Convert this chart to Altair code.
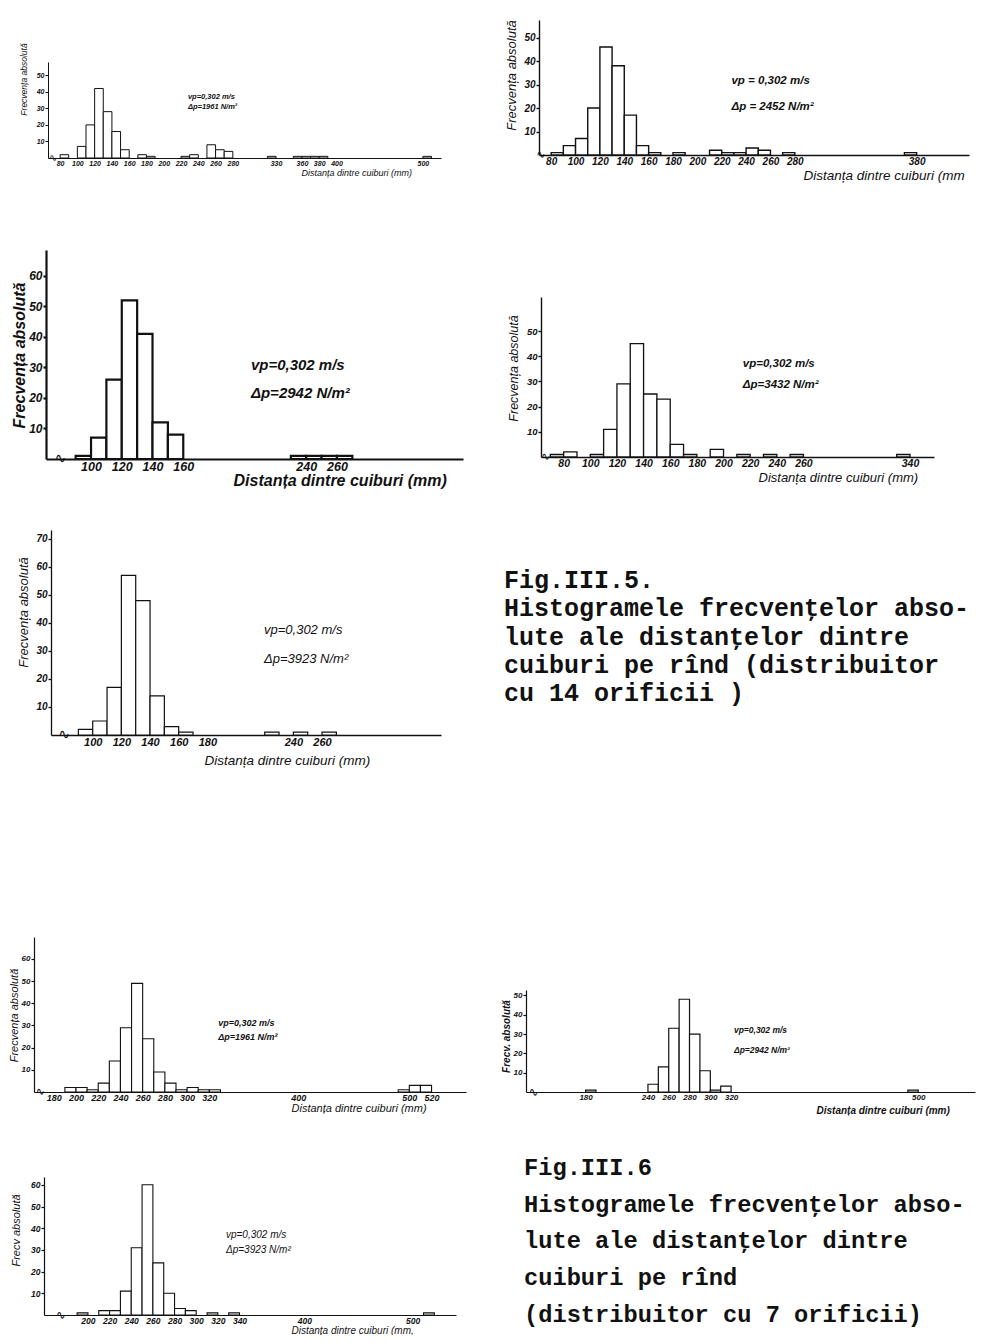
import altair as alt
import pandas as pd

# ------------------------------------------------------------------ data
# Fig. III.5 (distributor with 14 orifices) -- bins of 10 mm: left edge, count
p1_start = [80, 100, 110, 120, 130, 140, 150, 170, 180, 220, 230, 250, 260, 270, 320, 350, 360, 370, 380, 500]
p1_count = [2, 7, 20, 42, 28, 16, 5, 2, 1, 1, 2, 8, 5, 4, 1, 1, 1, 1, 1, 1]
p1_xticks = [80, 100, 120, 140, 160, 180, 200, 220, 240, 260, 280, 330, 360, 380, 400, 500]
p1_yticks = [10, 20, 30, 40, 50]
p1_note = ["vp=0,302 m/s", "Δp=1961 N/m²"]

p2_start = [80, 90, 100, 110, 120, 130, 140, 150, 160, 180, 210, 220, 230, 240, 250, 270, 370]
p2_count = [1, 4, 7, 20, 46, 38, 17, 4, 1, 1, 2, 1, 1, 3, 2, 1, 1]
p2_xticks = [80, 100, 120, 140, 160, 180, 200, 220, 240, 260, 280, 380]
p2_yticks = [10, 20, 30, 40, 50]
p2_note = ["vp = 0,302 m/s", "Δp = 2452 N/m²"]

p3_start = [90, 100, 110, 120, 130, 140, 150, 230, 240, 250, 260]
p3_count = [1, 7, 26, 52, 41, 12, 8, 1, 1, 1, 1]
p3_xticks = [100, 120, 140, 160, 240, 260]
p3_yticks = [10, 20, 30, 40, 50, 60]
p3_note = ["vp=0,302 m/s", "Δp=2942 N/m²"]

p4_start = [70, 80, 100, 110, 120, 130, 140, 150, 160, 170, 190, 210, 230, 250, 330]
p4_count = [1, 2, 1, 11, 29, 45, 25, 23, 5, 1, 3, 1, 1, 1, 1]
p4_xticks = [80, 100, 120, 140, 160, 180, 200, 220, 240, 260, 340]
p4_yticks = [10, 20, 30, 40, 50]
p4_note = ["vp=0,302 m/s", "Δp=3432 N/m²"]

p5_start = [90, 100, 110, 120, 130, 140, 150, 160, 220, 240, 260]
p5_count = [2, 5, 17, 57, 48, 14, 3, 1, 1, 1, 1]
p5_xticks = [100, 120, 140, 160, 180, 240, 260]
p5_yticks = [10, 20, 30, 40, 50, 60, 70]
p5_note = ["vp=0,302  m/s", "Δp=3923  N/m²"]

# Fig. III.6 (distributor with 7 orifices)
p6_start = [190, 200, 210, 220, 230, 240, 250, 260, 270, 280, 290, 300, 310, 320, 490, 500, 510]
p6_count = [2, 2, 1, 4, 14, 29, 49, 24, 9, 4, 1, 2, 1, 1, 1, 3, 3]
p6_xticks = [180, 200, 220, 240, 260, 280, 300, 320, 400, 500, 520]
p6_yticks = [10, 20, 30, 40, 50, 60]
p6_note = ["vp=0,302 m/s", "Δp=1961 N/m²"]

p7_start = [180, 240, 250, 260, 270, 280, 290, 300, 310, 490]
p7_count = [1, 4, 13, 33, 48, 30, 11, 1, 3, 1]
p7_xticks = [180, 240, 260, 280, 300, 320, 500]
p7_yticks = [10, 20, 30, 40, 50]
p7_note = ["vp=0,302 m/s", "Δp=2942 N/m²"]

p8_start = [190, 210, 220, 230, 240, 250, 260, 270, 280, 290, 310, 330, 510]
p8_count = [1, 2, 2, 11, 31, 60, 24, 10, 3, 2, 1, 1, 1]
p8_xticks = [200, 220, 240, 260, 280, 300, 320, 340, 400, 500]
p8_yticks = [10, 20, 30, 40, 50, 60]
p8_note = ["vp=0,302 m/s", "Δp=3923 N/m²"]

cap1_lines = ["Fig.III.5.",
              "Histogramele frecvenţelor abso-",
              "lute ale distanţelor dintre",
              "cuiburi pe rînd (distribuitor",
              "cu 14 orificii )"]
cap2_lines = ["Fig.III.6",
              "Histogramele frecvenţelor abso-",
              "lute ale distanţelor dintre",
              "cuiburi pe rînd",
              "(distribuitor cu 7 orificii)"]

BIN = 10
HAND = "Liberation Sans"
TYPE = "Liberation Mono"
INK = "#111111"
W1, W2 = 415, 434


def panel(starts, counts, xticks, yticks, note, L):
    df = pd.DataFrame({"start": starts,
                       "end": [s + BIN for s in starts],
                       "count": counts})
    xs = alt.Scale(domain=L["xdom"], range=L["xrange"], nice=False, zero=False)
    ys = alt.Scale(domain=[0, L["ymax"]], range=[L["base"], L["top"]], nice=False)
    xaxis = alt.Axis(values=xticks, ticks=False, labelPadding=1, labelOverlap=False,
                     labelFlush=False, labelAngle=0, labelFont=HAND,
                     labelFontSize=L["lfs"], labelFontStyle="italic", labelFontWeight="bold",
                     labelColor=INK, domainColor=INK, domainWidth=L["dw"],
                     offset=L["base"] - L["H"], grid=False,
                     title=L["xtitle"], titleX=L["xtx"], titleY=L["xty"],
                     titleAlign="left", titleBaseline="middle", titleFont=HAND,
                     titleFontSize=L["xtfs"], titleFontStyle="italic",
                     titleFontWeight=L["tw"], titleColor=INK)
    yaxis = alt.Axis(values=yticks, tickSize=3, tickColor=INK, tickWidth=L["dw"],
                     labelPadding=1, labelOverlap=False, labelFlush=False,
                     labelFont=HAND, labelFontSize=L["ylfs"], labelFontStyle="italic",
                     labelFontWeight="bold", labelColor=INK, domainColor=INK,
                     domainWidth=L["dw"], offset=L["yoff"], grid=False,
                     title=L["ytitle"], titleX=L["ytx"], titleY=L["yty"],
                     titleAlign="center", titleBaseline="middle", titleFont=HAND,
                     titleFontSize=L["ytfs"], titleFontStyle="italic",
                     titleFontWeight=L["tw"], titleColor=INK)
    bars = alt.Chart(df).mark_rect(fill="white", stroke=INK, strokeWidth=L["sw"]).encode(
        x=alt.X("start:Q", scale=xs, axis=xaxis),
        x2="end:Q",
        y=alt.Y("count:Q", scale=ys, axis=yaxis),
        y2=alt.datum(0),
    )
    ndf = pd.DataFrame({"start": [L["ax"]] * len(note), "count": L["ay"], "t": note})
    ann = alt.Chart(ndf).mark_text(align="left", baseline="middle", font=HAND,
                                   fontSize=L["afs"], fontStyle="italic",
                                   fontWeight=L["aw"], color=INK).encode(
        x=alt.X("start:Q", scale=xs, axis=xaxis),
        y=alt.Y("count:Q", scale=ys, axis=yaxis),
        text="t:N",
    )
    # axis-break wiggle drawn at the start of the distance axis
    bdf = pd.DataFrame({"start": [L["brk"]], "count": [0], "t": ["∿"]})
    brk = alt.Chart(bdf).mark_text(align="center", baseline="middle", font="DejaVu Sans",
                                   fontSize=L["bfs"], color=INK).encode(
        x=alt.X("start:Q", scale=xs, axis=xaxis),
        y=alt.Y("count:Q", scale=ys, axis=yaxis),
        text="t:N",
    )
    return alt.layer(bars, ann, brk).properties(width=L["W"], height=L["H"])


def caption(lines, L):
    df = pd.DataFrame({"i": list(range(len(lines))), "t": lines})
    return alt.Chart(df).mark_text(align="left", baseline="middle", font=TYPE,
                                   fontSize=L["fs"], fontWeight="bold", color=INK).encode(
        x=alt.value(L["x"]),
        y=alt.Y("i:Q", scale=alt.Scale(domain=[0, len(lines) - 1],
                                       range=[L["y0"], L["y0"] + (len(lines) - 1) * L["lh"]]),
                axis=None),
        text="t:N",
    ).properties(width=W2, height=L["H"])


DIST = "Distanța dintre cuiburi (mm)"
FA = "Frecvența absolută"

L1 = dict(H=242, W=W1, xdom=[66, 521], xrange=[-3, 390], yoff=3, ymax=58, base=150, top=54,
          lfs=7, ylfs=7, dw=1.0, sw=1.0, tw="normal", xtitle=DIST, xtx=250, xty=14, xtfs=9,
          ytitle=FA, ytx=-25, yty=71, ytfs=8.5, ax=228, ay=[36.9, 30.8], afs=7.5, aw="bold",
          brk=72, bfs=10)
L2 = dict(H=242, W=W2, xdom=[70, 423], xrange=[-2, 428], yoff=2, ymax=57.5, base=147, top=12,
          lfs=10, ylfs=10, dw=1.4, sw=1.4, tw="normal", xtitle="Distanța  dintre cuiburi (mm",
          xtx=262, xty=20, xtfs=13.5, ytitle=FA, ytx=-28, yty=67, ytfs=13, ax=228,
          ay=[31.5, 20.4], afs=11.5, aw="bold", brk=71.5, bfs=11)
L3 = dict(H=280, W=W1, xdom=[70.7, 342], xrange=[-5, 412], yoff=5, ymax=68.5, base=209, top=0,
          lfs=12.5, ylfs=12, dw=2.2, sw=2.2, tw="bold", xtitle=DIST, xtx=182, xty=21,
          xtfs=16, ytitle=FA, ytx=-27, yty=105, ytfs=16, ax=204, ay=[30.8, 21.6], afs=15,
          aw="bold", brk=80, bfs=14)
L4 = dict(H=280, W=W2, xdom=[63, 358], xrange=[0, 393], yoff=0, ymax=63.5, base=207, top=47,
          lfs=10.5, ylfs=9.5, dw=1.4, sw=1.3, tw="normal", xtitle=DIST, xtx=217, xty=20,
          xtfs=13, ytitle=FA, ytx=-28, yty=118, ytfs=12.5, ax=214.5, ay=[36.9, 28.6],
          afs=11.5, aw="bold", brk=66.5, bfs=11)
L5 = dict(H=407, W=W1, xdom=[70.9, 343], xrange=[0, 390], yoff=0, ymax=73.2, base=205, top=0,
          lfs=11, ylfs=10, dw=1.3, sw=1.2, tw="normal", xtitle=DIST, xtx=153, xty=25,
          xtfs=13.5, ytitle=FA, ytx=-28, yty=82, ytfs=13, ax=219.5, ay=[37.5, 27.1], afs=13,
          aw="normal", brk=80, bfs=14)
L6 = dict(H=240, W=W1, xdom=[162.2, 551], xrange=[-17, 415], yoff=17, ymax=69.9, base=155,
          top=0, lfs=9, ylfs=8, dw=1.2, sw=1.1, tw="normal", xtitle=DIST, xtx=240, xty=16,
          xtfs=11, ytitle=FA, ytx=-19.5, yty=78, ytfs=11, ax=328, ay=[31.1, 24.8], afs=9,
          aw="bold", brk=168, bfs=11)
L7 = dict(H=240, W=W2, xdom=[122.7, 554.6], xrange=[-15, 434], yoff=15, ymax=52.8, base=155,
          top=53, lfs=8, ylfs=8, dw=1.2, sw=1.2, tw="bold", xtitle=DIST, xtx=275, xty=18,
          xtfs=10, ytitle="Frecv. absolută", ytx=-20, yty=99, ytfs=10, ax=322.7,
          ay=[32.1, 21.8], afs=8.5, aw="bold", brk=130, bfs=12)
L8 = dict(H=150, W=W1, xdom=[159.4, 540], xrange=[-7, 405], yoff=7, ymax=63.6, base=138,
          top=0, lfs=8.5, ylfs=8.5, dw=1.2, sw=1.1, tw="normal",
          xtitle="Distanța dintre cuiburi (mm,", xtx=240, xty=15, xtfs=10, ytitle="Frecv absolută",
          ytx=-28, yty=53, ytfs=11, ax=327.5, ay=[36.9, 30.0], afs=10, aw="normal",
          brk=175, bfs=12)

C1 = dict(H=407, x=-37, y0=50, lh=28.3, fs=25)
C2 = dict(H=150, x=-17, y0=-9, lh=36.7, fs=23.7)

charts = [
    panel(p1_start, p1_count, p1_xticks, p1_yticks, p1_note, L1),
    panel(p2_start, p2_count, p2_xticks, p2_yticks, p2_note, L2),
    panel(p3_start, p3_count, p3_xticks, p3_yticks, p3_note, L3),
    panel(p4_start, p4_count, p4_xticks, p4_yticks, p4_note, L4),
    panel(p5_start, p5_count, p5_xticks, p5_yticks, p5_note, L5),
    caption(cap1_lines, C1),
    panel(p6_start, p6_count, p6_xticks, p6_yticks, p6_note, L6),
    panel(p7_start, p7_count, p7_xticks, p7_yticks, p7_note, L7),
    panel(p8_start, p8_count, p8_xticks, p8_yticks, p8_note, L8),
    caption(cap2_lines, C2),
]

chart = alt.concat(*charts, columns=2, spacing={"row": 0, "column": 75},
                   bounds="flush").properties(padding=0).configure_view(stroke=None)

chart.save("out.html", embed_options={"renderer": "svg", "actions": False})
